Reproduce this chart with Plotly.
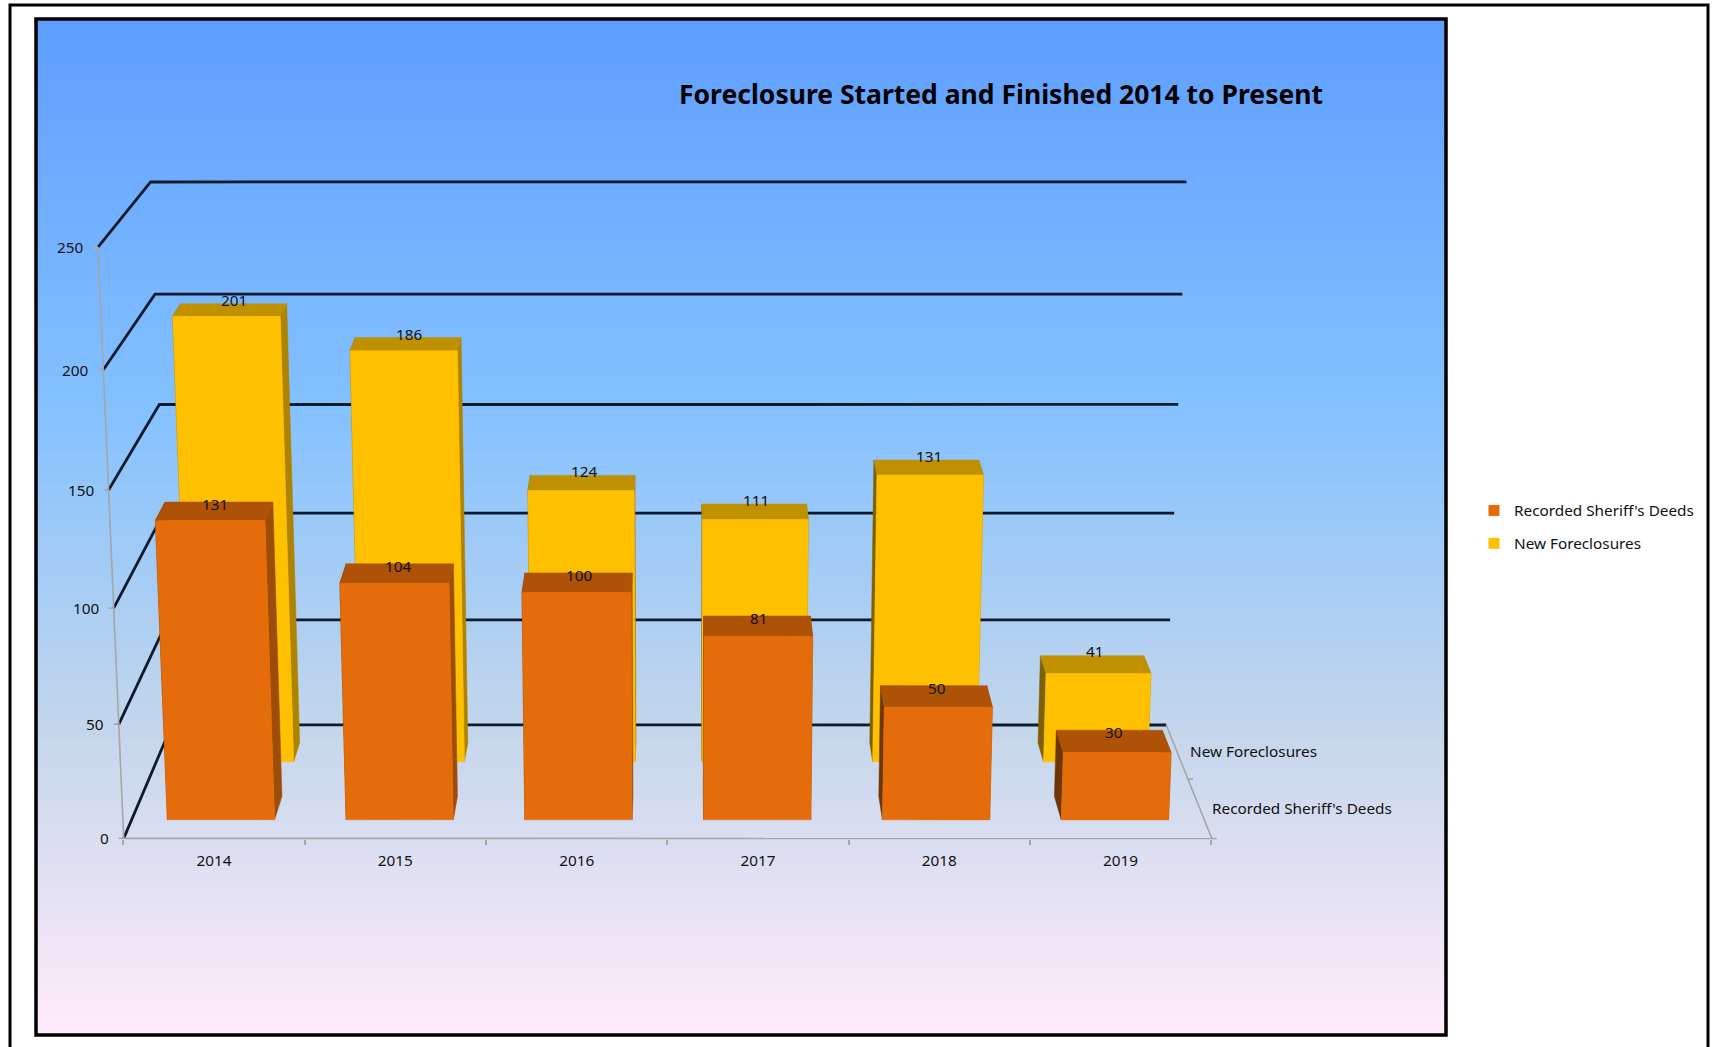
import numpy as np
import plotly.graph_objects as go

# ---------- chart data ----------
years = ["2014", "2015", "2016", "2017", "2018", "2019"]
recorded_deeds = [131, 104, 100, 81, 50, 30]
new_foreclosures = [201, 186, 124, 111, 131, 41]
value_ticks = [0, 50, 100, 150, 200, 250]
title_text = "Foreclosure Started and Finished 2014 to Present"
FONT = "Noto Sans"
TEXT_SIZE = 15.3

# ---------- page geometry ----------
W, H = 1712, 1047
X0PX, XSTEP = 123.4, 181.3   # pixel of category edge -0.5, pixels per category
Y0PX, YUNIT = 839.0, 2.3     # pixel of value 0, pixels per value unit
S = 1712 / 1568

# camera calibration: (category, depth, value) -> reference pixel (at 1568 scale)
cal_front_left = [(113, 768), (108, 663), (104, 557), (100, 449), (95, 338), (90, 227)]
cal_back_left = [(158, 664), (154, 568), (150, 470), (146, 370), (142, 269), (137, 167)]
cal_back_right = [(1068, 664), (1072, 568), (1075, 470), (1079, 370), (1083, 269), (1087, 167)]
cal_front_right = [(1110, 768)]


def fit_camera():
    rows, rhs = [], []
    sets = [(-0.5, 0, cal_front_left), (-0.5, 1, cal_back_left), (5.5, 1, cal_back_right), (5.5, 0, cal_front_right)]
    for c, d, pts in sets:
        for v, (px, py) in zip(value_ticks, pts):
            p = [c, d, v / 250, 1]
            rows.append(p + [0, 0, 0, 0] + [-px * q for q in p[:3]])
            rhs.append(px)
            rows.append([0, 0, 0, 0] + p + [-py * q for q in p[:3]])
            rhs.append(py)
    m = np.linalg.lstsq(np.array(rows, float), np.array(rhs, float), rcond=None)[0]
    return np.append(m, 1).reshape(3, 4)


CAM = fit_camera()


def project(c, d, v):
    """(category, depth, value) -> plot-axis coordinates."""
    px, py, w = CAM @ np.array([c, d, v / 250, 1.0])
    px, py = px / w * S, py / w * S
    return (px - X0PX) / XSTEP - 0.5, (Y0PX - py) / YUNIT


def poly(pts):
    xy = [project(*p) for p in pts]
    xy.append(xy[0])
    return [a for a, _ in xy] + [None], [b for _, b in xy] + [None]


def add_faces(fig, values, half, d0, d1, col_front, col_top, col_left, col_right):
    lx, ly, rx, ry, tx, ty, fx, fy = [], [], [], [], [], [], [], []
    for i, v in enumerate(values):
        l, r = i - half, i + half
        a, b = poly([(l, d0, 0), (l, d1, 0), (l, d1, v), (l, d0, v)])
        lx += a
        ly += b
        a, b = poly([(r, d0, 0), (r, d1, 0), (r, d1, v), (r, d0, v)])
        rx += a
        ry += b
        a, b = poly([(l, d0, v), (r, d0, v), (r, d1, v), (l, d1, v)])
        tx += a
        ty += b
        a, b = poly([(l, d0, 0), (r, d0, 0), (r, d0, v), (l, d0, v)])
        fx += a
        fy += b
    for x, y, col in ((lx, ly, col_left), (rx, ry, col_right), (tx, ty, col_top), (fx, fy, col_front)):
        fig.add_trace(go.Scatter(x=x, y=y, mode="lines", fill="toself", fillcolor=col,
                                 line=dict(color=col, width=0.5), hoverinfo="skip", showlegend=False))


fig = go.Figure()

# gradient plot-area background
FR_L, FR_T, FR_R, FR_B = 37, 20, 1445, 1034
to_x = lambda px: (px - X0PX) / XSTEP - 0.5
to_y = lambda py: (Y0PX - py) / YUNIT
n_rows = 250
fig.add_trace(go.Heatmap(
    x=[to_x(FR_L), to_x(FR_R)],
    y=np.linspace(to_y(FR_B), to_y(FR_T), n_rows + 1),
    z=[[k] for k in np.linspace(1, 0, n_rows)],
    zmin=0, zmax=1, showscale=False, hoverinfo="skip",
    colorscale=[[0, "#5E9EFF"], [0.39, "#85C2FF"], [0.70, "#C4D6EB"], [1, "#FFEBFA"]],
))

# gridlines on the side wall and back wall
gx, gy = [], []
for v in value_ticks:
    for p in ((-0.5, 0, v), (-0.5, 1, v), (5.5, 1, v)):
        a, b = project(*p)
        gx.append(a)
        gy.append(b)
    gx.append(None)
    gy.append(None)
fig.add_trace(go.Scatter(x=gx, y=gy, mode="lines", line=dict(color="#0f1a2c", width=2.8),
                         hoverinfo="skip", showlegend=False))

# value axis, category axis line, depth axis
ax_x, ax_y = [], []
for seg in ([(-0.5, 0, 0), (-0.5, 0, 250)], [(-0.5, 0, 0), (5.5, 0, 0)], [(5.5, 0, 0), (5.5, 1, 0)]):
    for p in seg:
        a, b = project(*p)
        ax_x.append(a)
        ax_y.append(b)
    ax_x.append(None)
    ax_y.append(None)
for v in value_ticks:
    a, b = project(-0.5, 0, v)
    ax_x += [a - 5 / XSTEP, a, None]
    ax_y += [b, b, None]
for d in (0, 0.5):
    a, b = project(5.5, d, 0)
    ax_x += [a, a + 5 / XSTEP, None]
    ax_y += [b, b, None]
fig.add_trace(go.Scatter(x=ax_x, y=ax_y, mode="lines", line=dict(color="#a6a6a6", width=1.6),
                         hoverinfo="skip", showlegend=False))

# bars
add_faces(fig, new_foreclosures, 0.305, 0.655, 0.83, "#FFC000", "#BF9000", "#7F6000", "#AE8300")
add_faces(fig, recorded_deeds, 0.30, 0.152, 0.35, "#E46C0A", "#AD5207", "#6E3505", "#9C4D08")

# legend entries
for name, col in (("Recorded Sheriff's Deeds", "#E46C0A"), ("New Foreclosures", "#FFC000")):
    fig.add_trace(go.Scatter(x=[None], y=[None], mode="markers", name=name, legendgroup=name,
                             marker=dict(symbol="square", size=11, color=col)))

ann = []
for v in value_ticks:
    a, b = project(-0.5, 0, v)
    ann.append(dict(x=a, y=b, text=str(v), xanchor="right", xshift=-13, showarrow=False))
for name, d in (("New Foreclosures", 0.755), ("Recorded Sheriff's Deeds", 0.255)):
    a, b = project(5.5, d, 0)
    ann.append(dict(x=a, y=b, text=name, xanchor="left", xshift=11, showarrow=False))
for i, v in enumerate(recorded_deeds):
    a, _ = project(i, 0.245, v)
    _, b = project(i, 0.33, v)
    ann.append(dict(x=a, y=b, text=str(v), showarrow=False, xshift=1))
for i, v in enumerate(new_foreclosures):
    a, _ = project(i, 0.80, v)
    _, b = project(i, 0.88, v)
    ann.append(dict(x=a, y=b, text=str(v), showarrow=False, xshift=2))

frame = [(10, 5, 1708, 1060, 3), (FR_L - 1, FR_T - 1, FR_R + 1, FR_B + 1, 3.5)]
shapes = [dict(type="rect", xref="paper", yref="paper", x0=a / W, x1=c / W, y0=1 - b / H, y1=1 - d / H,
               line=dict(color="black", width=w), layer="above") for a, b, c, d, w in frame]

cats = list(range(len(years)))
fig.update_layout(
    width=W, height=H, margin=dict(l=0, r=0, t=0, b=0),
    paper_bgcolor="white", plot_bgcolor="rgba(0,0,0,0)",
    font=dict(family=FONT, size=TEXT_SIZE, color="#111111"),
    title=dict(text=title_text, x=1001 / W, xanchor="center", y=1 - 95 / H, yanchor="middle",
               font=dict(family=FONT, size=26.5, color="black", weight="bold")),
    xaxis=dict(range=[to_x(0), to_x(W)], domain=[0, 1], anchor="free", position=(H - Y0PX) / H,
               tickmode="array", tickvals=cats, ticktext=years, ticks="", showgrid=False,
               zeroline=False, showline=False, ticklabelstandoff=11,
               minor=dict(tickmode="array", tickvals=[c - 0.5 for c in cats + [6]], ticks="outside",
                          ticklen=5, tickcolor="#a6a6a6", tickwidth=1.5, showgrid=False)),
    yaxis=dict(range=[to_y(H), to_y(0)], domain=[0, 1], visible=False),
    legend=dict(x=1474 / W, xanchor="left", y=1 - 494 / H, yanchor="top", bgcolor="rgba(0,0,0,0)",
                font=dict(family=FONT, size=TEXT_SIZE), tracegroupgap=10),
    annotations=ann, shapes=shapes, hovermode=False,
)

fig.write_html("out.html", config=dict(displayModeBar=False),
               post_script="document.body.style.margin='0';document.documentElement.style.overflow='hidden';")
